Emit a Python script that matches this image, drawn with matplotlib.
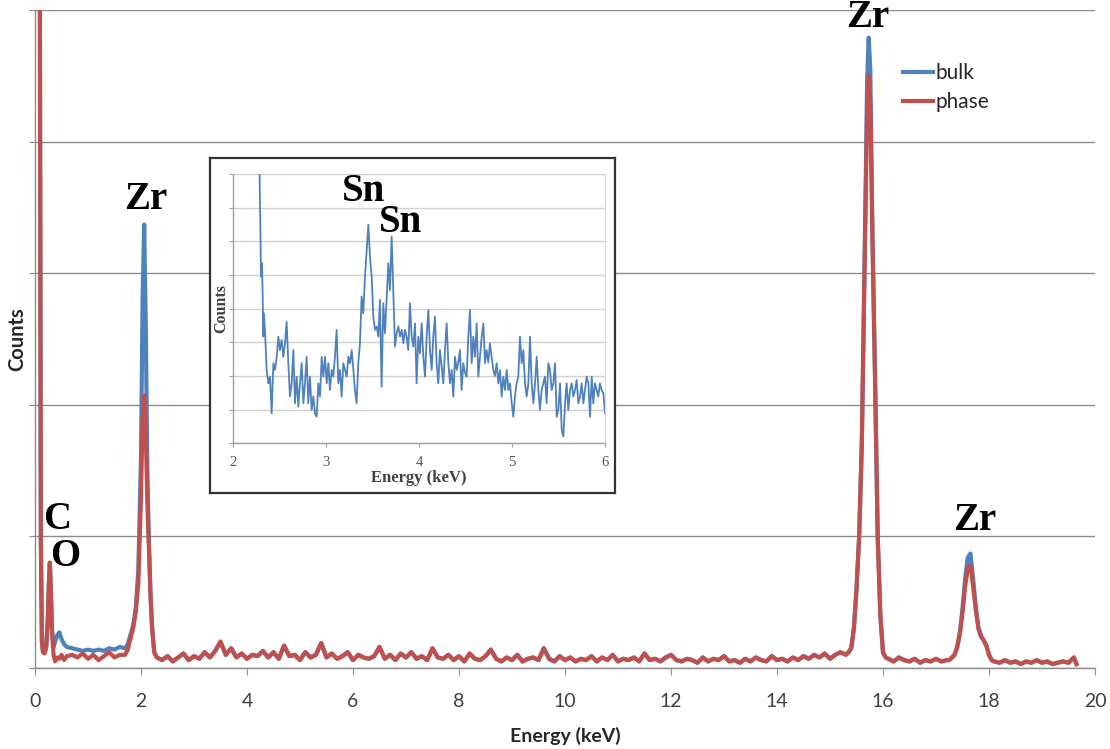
import numpy as np
import matplotlib
matplotlib.use("Agg")
import matplotlib.pyplot as plt

# ---------------- main spectrum data (counts in units of 1000) ----------------
# low-energy part: noise peak + C/O peak
e_low = [0.00, 0.04, 0.07, 0.09, 0.11, 0.13, 0.15, 0.18, 0.21, 0.24, 0.26, 0.28,
         0.30, 0.32, 0.35, 0.38, 0.42, 0.46, 0.50, 0.55, 0.60]
phase_low = [5.6, 5.6, 5.6, 5.6, 1.0, 0.2, 0.12, 0.11, 0.15, 0.35, 0.62, 0.80,
             0.58, 0.28, 0.10, 0.05, 0.08, 0.07, 0.10, 0.06, 0.09]
bulk_low = [5.6, 5.6, 5.6, 5.6, 1.0, 0.2, 0.13, 0.12, 0.16, 0.36, 0.62, 0.80,
            0.58, 0.30, 0.16, 0.20, 0.25, 0.27, 0.22, 0.18, 0.16]

e_pre = [0.7, 0.8, 0.9, 1.0, 1.1, 1.2, 1.3, 1.4, 1.5, 1.6]
phase_pre = [0.10, 0.08, 0.11, 0.07, 0.10, 0.06, 0.09, 0.12, 0.08, 0.10]
bulk_pre = [0.15, 0.14, 0.13, 0.14, 0.13, 0.14, 0.13, 0.15, 0.14, 0.16]

# Zr L peak
e_zrl = [1.70, 1.75, 1.80, 1.85, 1.90, 1.95, 2.00, 2.03, 2.06, 2.09, 2.12,
         2.15, 2.18, 2.21, 2.25, 2.30]
phase_zrl = [0.10, 0.14, 0.22, 0.30, 0.42, 0.65, 1.30, 1.90, 2.07, 1.80, 1.25,
             0.90, 0.55, 0.30, 0.12, 0.08]
bulk_zrl = [0.15, 0.18, 0.25, 0.32, 0.45, 0.75, 1.60, 2.80, 3.37, 2.60, 1.50,
            0.95, 0.55, 0.30, 0.12, 0.08]

# background 2.4 - 15.2 keV (0.1 keV steps)
e_bg1 = [round(2.4 + 0.1 * i, 1) for i in range(129)]
bg1 = [0.06, 0.09, 0.05, 0.08, 0.11, 0.06, 0.09, 0.07, 0.12, 0.08,
       0.13, 0.20, 0.10, 0.15, 0.08, 0.11, 0.07, 0.10, 0.09, 0.13,
       0.08, 0.12, 0.07, 0.17, 0.09, 0.10, 0.06, 0.12, 0.08, 0.10,
       0.19, 0.08, 0.11, 0.07, 0.09, 0.12, 0.06, 0.10, 0.08, 0.07,
       0.09, 0.16, 0.07, 0.10, 0.06, 0.11, 0.08, 0.12, 0.07, 0.09,
       0.06, 0.15, 0.08, 0.07, 0.10, 0.06, 0.09, 0.05, 0.11, 0.07,
       0.06, 0.09, 0.14, 0.07, 0.05, 0.08, 0.06, 0.10, 0.05, 0.07,
       0.08, 0.06, 0.15, 0.07, 0.05, 0.09, 0.06, 0.08, 0.05, 0.07,
       0.06, 0.09, 0.05, 0.08, 0.06, 0.10, 0.05, 0.07, 0.06, 0.08,
       0.05, 0.11, 0.06, 0.07, 0.05, 0.08, 0.10, 0.06, 0.05, 0.07,
       0.06, 0.04, 0.08, 0.05, 0.07, 0.06, 0.09, 0.05, 0.06, 0.04,
       0.07, 0.05, 0.08, 0.06, 0.05, 0.09, 0.06, 0.07, 0.05, 0.08,
       0.06, 0.09, 0.07, 0.10, 0.08, 0.11, 0.07, 0.10, 0.12]

# Zr K-alpha peak
e_zrka = [15.30, 15.35, 15.40, 15.45, 15.50, 15.55, 15.60, 15.65, 15.70, 15.73,
          15.76, 15.80, 15.85, 15.90, 15.95, 16.00, 16.05]
phase_zrka = [0.10, 0.12, 0.15, 0.30, 0.60, 1.00, 1.70, 3.00, 4.20, 4.50,
              4.30, 3.30, 2.20, 1.00, 0.40, 0.12, 0.08]
bulk_zrka = [0.10, 0.12, 0.15, 0.30, 0.60, 1.00, 1.70, 3.00, 4.45, 4.79,
             4.55, 3.30, 2.20, 1.00, 0.40, 0.12, 0.08]

e_bg2 = [16.1, 16.2, 16.3, 16.4, 16.5, 16.6, 16.7, 16.8, 16.9, 17.0, 17.1, 17.2]
bg2 = [0.07, 0.05, 0.08, 0.06, 0.05, 0.07, 0.04, 0.06, 0.05, 0.07, 0.05, 0.06]

# Zr K-beta peak
e_zrkb = [17.25, 17.30, 17.35, 17.40, 17.45, 17.50, 17.55, 17.60, 17.65, 17.70,
          17.75, 17.80, 17.85, 17.90, 17.95, 18.00, 18.05]
phase_zrkb = [0.06, 0.08, 0.10, 0.16, 0.26, 0.42, 0.62, 0.76, 0.78, 0.62,
              0.44, 0.30, 0.24, 0.21, 0.17, 0.10, 0.06]
bulk_zrkb = [0.06, 0.08, 0.10, 0.16, 0.27, 0.45, 0.68, 0.84, 0.87, 0.68,
             0.47, 0.31, 0.24, 0.21, 0.17, 0.10, 0.06]

e_bg3 = [18.1, 18.2, 18.3, 18.4, 18.5, 18.6, 18.7, 18.8, 18.9, 19.0, 19.1,
         19.2, 19.3, 19.4, 19.5, 19.6, 19.65]
bg3 = [0.05, 0.04, 0.06, 0.04, 0.05, 0.03, 0.05, 0.04, 0.06, 0.04, 0.05,
       0.03, 0.04, 0.05, 0.04, 0.08, 0.03]

energy_main = np.array(e_low + e_pre + e_zrl + e_bg1 + e_zrka + e_bg2 + e_zrkb + e_bg3)
bulk_counts = np.array(bulk_low + bulk_pre + bulk_zrl + bg1 + bulk_zrka + bg2 + bulk_zrkb + bg3)
phase_counts = np.array(phase_low + phase_pre + phase_zrl + bg1 + phase_zrka + bg2 + phase_zrkb + bg3)

x_ticks = [0, 2, 4, 6, 8, 10, 12, 14, 16, 18, 20]

# ---------------- inset data (bulk, 2-6 keV) ----------------
inset_energy = [2.280, 2.291, 2.298, 2.309, 2.316, 2.323, 2.330, 2.344,
    2.359, 2.377, 2.395, 2.413, 2.431, 2.449, 2.467, 2.485, 2.502, 2.520,
    2.538, 2.556, 2.574, 2.592, 2.610, 2.628, 2.646, 2.664, 2.682, 2.700,
    2.718, 2.736, 2.754, 2.771, 2.789, 2.807, 2.825, 2.843, 2.861, 2.879,
    2.897, 2.915, 2.933, 2.951, 2.969, 2.987, 3.005, 3.023, 3.040, 3.058,
    3.076, 3.094, 3.112, 3.130, 3.148, 3.166, 3.184, 3.202, 3.220, 3.238,
    3.256, 3.274, 3.292, 3.309, 3.327, 3.345, 3.363, 3.381, 3.399, 3.417,
    3.435, 3.453, 3.471, 3.489, 3.507, 3.525, 3.543, 3.561, 3.578, 3.596,
    3.614, 3.632, 3.650, 3.668, 3.686, 3.704, 3.722, 3.740, 3.758, 3.776,
    3.794, 3.812, 3.830, 3.847, 3.865, 3.883, 3.901, 3.919, 3.937, 3.955,
    3.973, 3.991, 4.009, 4.027, 4.045, 4.063, 4.081, 4.099, 4.117, 4.135,
    4.152, 4.170, 4.188, 4.206, 4.224, 4.242, 4.260, 4.278, 4.296, 4.314,
    4.332, 4.350, 4.368, 4.386, 4.404, 4.421, 4.439, 4.457, 4.475, 4.493,
    4.511, 4.529, 4.547, 4.565, 4.583, 4.601, 4.619, 4.637, 4.655, 4.673,
    4.691, 4.709, 4.726, 4.744, 4.762, 4.780, 4.798, 4.816, 4.834, 4.852,
    4.870, 4.888, 4.906, 4.924, 4.942, 4.960, 4.978, 4.996, 5.013, 5.031,
    5.049, 5.067, 5.085, 5.103, 5.121, 5.139, 5.157, 5.175, 5.193, 5.211,
    5.229, 5.247, 5.265, 5.283, 5.300, 5.318, 5.336, 5.354, 5.372, 5.390,
    5.408, 5.426, 5.444, 5.462, 5.480, 5.498, 5.516, 5.534, 5.552, 5.570,
    5.587, 5.605, 5.623, 5.641, 5.659, 5.677, 5.695, 5.713, 5.731, 5.749,
    5.767, 5.785, 5.803, 5.821, 5.839, 5.857, 5.874, 5.892, 5.910, 5.928,
    5.946, 5.964, 5.982, 6.000]
inset_counts = [8.5, 6.5, 4.95, 5.35, 4.4, 3.17, 3.86, 3.17,
    2.18, 1.78, 1.98, 0.89, 2.38, 2.18, 2.57, 3.17, 2.77, 3.07,
    2.57, 2.97, 3.61, 2.38, 1.39, 1.78, 2.77, 1.19, 1.98, 1.09,
    1.78, 2.38, 1.19, 1.78, 2.57, 1.19, 1.98, 0.99, 1.39, 0.89,
    0.79, 1.78, 1.39, 2.57, 1.98, 2.57, 1.78, 2.38, 1.58, 2.18,
    1.98, 2.57, 3.37, 1.78, 2.18, 1.39, 2.38, 2.18, 1.98, 2.57,
    2.38, 2.77, 2.18, 1.58, 1.19, 2.38, 2.97, 4.36, 3.86, 4.95,
    5.74, 6.49, 5.54, 4.95, 3.76, 3.37, 3.47, 3.17, 4.26, 1.68,
    4.16, 3.27, 4.26, 5.35, 4.55, 6.14, 4.55, 2.87, 3.27, 3.47,
    3.17, 3.37, 2.97, 3.37, 3.17, 2.77, 4.16, 3.17, 2.87, 3.56,
    1.78, 3.17, 2.67, 3.56, 2.57, 1.98, 3.17, 3.96, 2.77, 2.18,
    3.17, 3.76, 2.38, 1.78, 2.77, 2.28, 1.78, 2.77, 3.56, 2.38,
    1.78, 2.18, 1.39, 2.57, 2.18, 2.40, 2.77, 1.58, 2.38, 2.10,
    1.98, 3.17, 3.96, 2.38, 3.17, 2.57, 3.56, 1.98, 2.57, 3.17,
    3.56, 2.38, 2.77, 2.40, 2.97, 2.57, 2.18, 2.00, 2.38, 1.78,
    2.18, 1.39, 1.98, 1.58, 2.18, 1.58, 1.78, 1.19, 0.79, 1.39,
    1.78, 1.98, 3.17, 2.38, 2.77, 1.78, 1.39, 1.78, 3.17, 1.78,
    1.19, 1.78, 2.57, 1.58, 0.99, 1.58, 1.78, 1.98, 1.19, 2.38,
    2.18, 1.58, 1.78, 2.38, 0.79, 0.99, 1.78, 0.40, 0.20, 1.19,
    1.78, 0.99, 1.58, 1.78, 1.39, 1.58, 1.88, 1.19, 1.39, 1.78,
    1.19, 1.60, 1.98, 1.78, 0.79, 1.98, 1.19, 1.78, 1.58, 1.39,
    1.78, 1.58, 1.49, 0.89]
inset_x_ticks = [2, 3, 4, 5, 6]

# ---------------- peak labels ----------------
peak_labels = ["Zr", "Zr", "Zr", "C", "O"]
peak_label_x = [2.09, 15.72, 17.74, 0.42, 0.57]
peak_label_y = [3.56, 4.94, 1.12, 1.13, 0.85]
inset_labels = ["Sn", "Sn"]
inset_label_x = [3.40, 3.80]
inset_label_y = [7.47, 6.57]

# ---------------- styling ----------------
BLUE = "#4F81BD"
RED = "#C0504D"
GRID = "#8c8c8c"
W, H = 1110, 749

fig = plt.figure(figsize=(W / 100, H / 100), dpi=100)
fig.patch.set_facecolor("white")

ax = fig.add_axes([35 / W, 1 - 668 / H, 1060 / W, 658 / H])
ax.plot(energy_main, bulk_counts, color=BLUE, lw=3.0, label="bulk", solid_joinstyle="round")
ax.plot(energy_main, phase_counts, color=RED, lw=3.0, label="phase", solid_joinstyle="round")
ax.set_xlim(0, 20)
ax.set_ylim(0, 5)
ax.set_xticks(x_ticks)
ax.set_yticks([0, 1, 2, 3, 4, 5])
ax.set_yticklabels([])
ax.grid(axis="y", color=GRID, lw=1.0)
ax.set_axisbelow(True)
for s in ["top", "right"]:
    ax.spines[s].set_visible(False)
for s in ["left", "bottom"]:
    ax.spines[s].set_color(GRID)
    ax.spines[s].set_linewidth(1.0)
ax.tick_params(axis="x", direction="out", length=5, color=GRID, labelsize=14,
               labelcolor="#404040", pad=13)
ax.tick_params(axis="y", direction="out", length=4, color=GRID)
for lbl in ax.get_xticklabels():
    lbl.set_fontfamily("Lato")
ax.set_xlabel("Energy (keV)", fontsize=14, fontweight="bold", family="Lato",
              color="#262626", labelpad=12)
ax.set_ylabel("Counts", fontsize=14.5, fontweight="bold", family="Lato",
              color="#262626")
ax.yaxis.set_label_coords(-8 / 1060, 0.5)

for t, x, y in zip(peak_labels, peak_label_x, peak_label_y):
    ax.text(x, y, t, fontsize=28, fontweight="bold", family="Liberation Serif",
            ha="center", va="center", color="black", clip_on=False)

leg = ax.legend(loc="upper left", bbox_to_anchor=(868 / 1060, 1 - 53 / 658),
                frameon=False, handlelength=1.45, handletextpad=0.12,
                labelspacing=0.45, borderaxespad=0, borderpad=0,
                prop={"family": "Lato", "size": 15})
for txt in leg.get_texts():
    txt.set_color("#262626")

# ---------------- inset ----------------
frame = fig.add_axes([210 / W, 1 - 493 / H, 405 / W, 335 / H])
frame.set_xticks([])
frame.set_yticks([])
frame.set_facecolor("white")
for s in frame.spines.values():
    s.set_color("#333333")
    s.set_linewidth(1.6)

ins = fig.add_axes([233.3 / W, 1 - 443.3 / H, 371.7 / W, 269.3 / H])
ins.plot(inset_energy, inset_counts, color=BLUE, lw=1.3)
ins.set_xlim(2, 6)
ins.set_ylim(0, 8)
ins.set_xticks(inset_x_ticks)
ins.set_yticks(range(0, 9))
ins.set_yticklabels([])
ins.grid(axis="y", color="#d0d0d0", lw=1.0)
ins.set_axisbelow(True)
ins.spines["top"].set_visible(False)
ins.spines["right"].set_color("#d9d9d9")
for s in ["left", "bottom"]:
    ins.spines[s].set_color("#a0a0a0")
    ins.spines[s].set_linewidth(1.0)
ins.tick_params(axis="x", direction="out", length=3, color="#a0a0a0", labelsize=10.5,
                labelcolor="#555555", pad=6)
ins.tick_params(axis="y", direction="out", length=3, color="#a0a0a0")
for lbl in ins.get_xticklabels():
    lbl.set_fontfamily("Liberation Serif")
ins.set_xlabel("Energy (keV)", fontsize=12, fontweight="bold", family="Liberation Serif",
               color="#404040", labelpad=1)
ins.set_ylabel("Counts", fontsize=11.5, fontweight="bold", family="Liberation Serif",
               color="#404040")
ins.yaxis.set_label_coords(-4 / 371.7, 0.5)
for t, x, y in zip(inset_labels, inset_label_x, inset_label_y):
    ins.text(x, y, t, fontsize=28, fontweight="bold", family="Liberation Serif",
             ha="center", va="center", color="black", clip_on=False)

fig.savefig("out.png", dpi=100, facecolor="white")
